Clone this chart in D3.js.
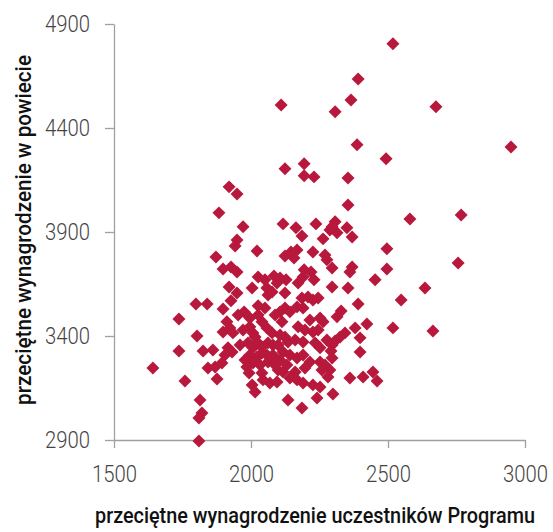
<!DOCTYPE html>
<html>
<head>
<meta charset="utf-8">
<script src="https://d3js.org/d3.v7.min.js"></script>
<style>
  body { margin: 0; background: #fff; }
  .axis path, .axis line { stroke: #a0a0a0; stroke-width: 1.3px; }
  .axis text { font-family: Roboto, "DejaVu Sans Condensed", sans-serif; font-weight: 300; font-size: 24px; fill: #444; }
  .title { font-family: Roboto, "DejaVu Sans Condensed", sans-serif; font-weight: 500; font-size: 22px; fill: #111; }
</style>
</head>
<body>
<div id="scatter"></div>
<script>
// average salary of programme participants (x) and average salary in the county (y)
var salaryParticipants = [
  2518, 2391, 2365, 2307, 2110, 2675, 2387, 2949, 2493, 2124, 2194, 2194, 2230, 2354, 1920, 1949,
  2354, 1883, 2580, 2767, 2117, 2164, 2186, 2237, 2288, 2307, 2314, 2263, 2350, 2369, 2296, 1971,
  1949, 1942, 2022, 1872, 2496, 2496, 2756, 2635, 2548, 2518, 2664, 2453,
  2124, 2146, 2168, 2157, 2226, 2270, 2277, 2296, 2369, 2361, 2354, 2296, 1898, 1927, 1949, 2026,
  2051, 2004, 1920, 1949, 2058, 2062, 2084, 2106, 2095, 2128, 2124, 2194, 2219, 2230, 2190, 2172,
  2077, 2186, 2208, 2226, 2245, 2391,
  1799, 1840, 1927, 2026, 2051, 1898, 1975, 1737, 2168, 2190, 2124, 2106, 2142, 2329, 2314, 2252,
  2263, 2423, 2380, 2398, 1912, 1923, 1898, 1934, 1996, 2007, 2015, 2040, 2058, 2077, 1803, 2226,
  2245, 2172, 2343, 2325, 2307, 2106, 2124, 2135, 2161, 2190, 2234, 2252, 2277, 2296, 2292,
  1737, 1825, 1861, 1916, 1931, 1905, 1989, 2007, 2022, 2040, 2062, 2080, 1996, 2022, 2040, 2058,
  2080, 2007, 2033, 2062, 2088, 2117, 2142, 2168, 2190, 2215, 2197, 2252, 2270, 2288, 2099, 2117,
  2398, 2296, 2259, 1642, 1843, 1869, 1894,
  1971, 1960, 1978, 1985, 2040, 2106, 2099, 2131, 2161, 2026, 2088, 1996, 2113, 2215, 2197, 1953,
  1759, 1876, 1814, 1821, 1810, 1810, 2004, 2015, 2069, 1993, 2044, 2142, 2168, 2190, 2226, 2252,
  2281, 2095, 2135, 2186, 2241, 2299, 2361, 2409, 2445, 2460
]
var salaryCounty = [
  4805, 4636, 4535, 4478, 4511, 4502, 4319, 4309, 4252, 4204, 4228, 4170, 4165, 4160, 4117, 4083,
  4030, 3992, 3963, 3982, 3939, 3920, 3881, 3939, 3910, 3949, 3896, 3867, 3920, 3876, 3925, 3925,
  3862, 3833, 3809, 3780, 3819, 3722, 3751, 3631, 3573, 3439, 3424, 3670,
  3785, 3804, 3814, 3775, 3804, 3790, 3766, 3727, 3732, 3708, 3631, 3636, 3722, 3732, 3708, 3684,
  3670, 3631, 3636, 3607, 3631, 3597, 3689, 3679, 3655, 3670, 3607, 3718, 3708, 3670, 3684, 3655,
  3612, 3583, 3588, 3573, 3583, 3554,
  3554, 3554, 3569, 3545, 3535, 3530, 3516, 3482, 3540, 3535, 3535, 3516, 3516, 3520, 3492, 3487,
  3468, 3458, 3439, 3391, 3468, 3439, 3419, 3415, 3444, 3415, 3395, 3468, 3439, 3415, 3400, 3419,
  3429, 3444, 3415, 3395, 3376, 3405, 3395, 3371, 3381, 3371, 3367, 3343, 3381, 3357, 3328,
  3328, 3328, 3333, 3343, 3323, 3309, 3367, 3343, 3371, 3347, 3367, 3357, 3309, 3299, 3318, 3309,
  3309, 3270, 3261, 3275, 3261, 3323, 3309, 3294, 3309, 3275, 3246, 3275, 3261, 3237, 3237, 3227,
  3323, 3294, 3237, 3246, 3246, 3251, 3270,
  3429, 3357, 3285, 3251, 3222, 3285, 3357, 3261, 3227, 3501, 3501, 3487, 3468, 3477, 3429, 3501,
  3184, 3193, 3092, 3030, 3006, 2895, 3165, 3131, 3174, 3222, 3189, 3198, 3189, 3174, 3165, 3155,
  3203, 3179, 3092, 3054, 3102, 3121, 3198, 3203, 3227, 3184
]
var xTicks = [1500, 2000, 2500, 3000]
var yTicks = [2900, 3400, 3900, 4400, 4900]
var xTitle = "przeciętne wynagrodzenie uczestników Programu"
var yTitle = "przeciętne wynagrodzenie w powiecie"

var width = 553
var height = 532

var svg = d3.select("#scatter")
  .append("svg")
    .attr("width", width)
    .attr("height", height)

var points = salaryParticipants.map(function(v, i){ return {x: v, y: salaryCounty[i]} })

// scales
var x = d3.scaleLinear()
  .domain([1500, 3000])
  .range([114, 525])
var y = d3.scaleLinear()
  .domain([2900, 4900])
  .range([440, 24])

// axes
svg.append("g")
  .attr("class", "axis")
  .attr("transform", "translate(0,440)")
  .call(d3.axisBottom(x).tickValues(xTicks).tickFormat(d3.format("d")).tickSize(8).tickPadding(17).tickSizeOuter(0))

svg.append("g")
  .attr("class", "axis")
  .attr("transform", "translate(114,0)")
  .call(d3.axisLeft(y).tickValues(yTicks).tickFormat(d3.format("d")).tickSize(9).tickPadding(15).tickSizeOuter(0))

// squeeze the tick labels to the narrow look of the original
svg.selectAll(".axis text")
  .attr("textLength", 45)
  .attr("lengthAdjust", "spacingAndGlyphs")

// diamonds
svg.append("g")
  .selectAll("path")
  .data(points)
  .enter()
  .append("path")
    .attr("d", d3.symbol(d3.symbolSquare, 84))
    .attr("transform", function(d){ return "translate(" + x(d.x) + "," + y(d.y) + ") rotate(45)" })
    .style("fill", "#b8183c")

// axis titles
svg.append("text")
  .attr("class", "title")
  .attr("x", 95)
  .attr("y", 523)
  .attr("textLength", 440)
  .attr("lengthAdjust", "spacingAndGlyphs")
  .text(xTitle)

svg.append("text")
  .attr("class", "title")
  .attr("transform", "translate(31,405) rotate(-90)")
  .attr("textLength", 350)
  .attr("lengthAdjust", "spacingAndGlyphs")
  .text(yTitle)
</script>
</body>
</html>
